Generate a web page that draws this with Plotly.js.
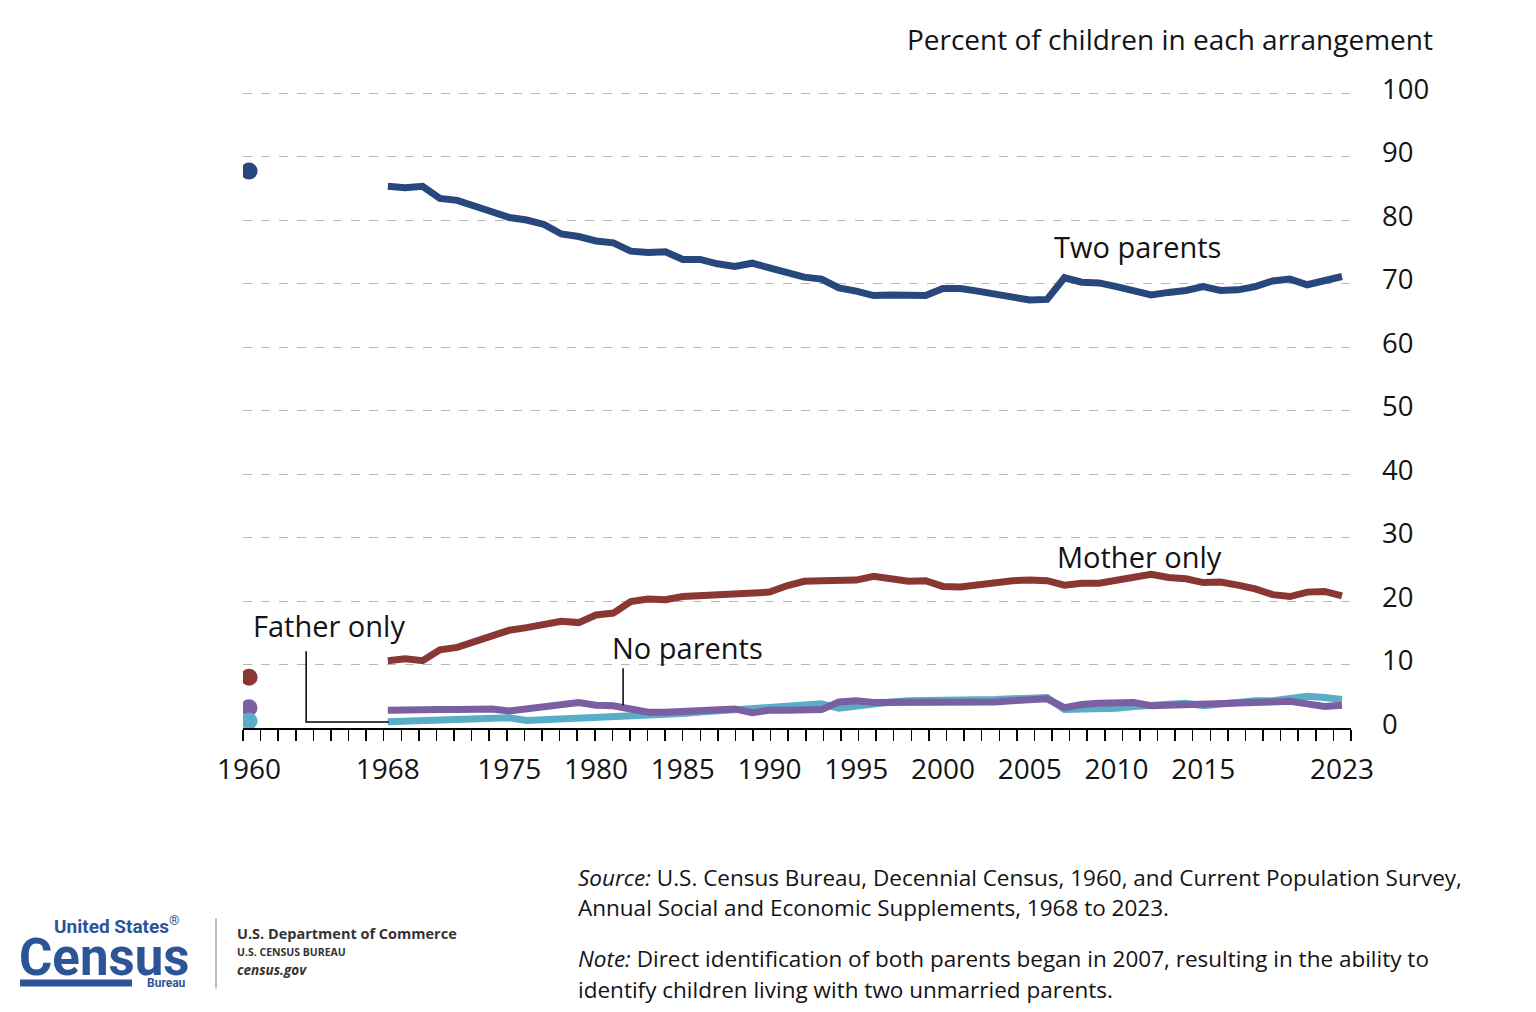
<!DOCTYPE html>
<html><head><meta charset="utf-8">
<script src="https://cdn.plot.ly/plotly-3.0.1.min.js"></script>
<style>html,body{margin:0;padding:0;background:#fff}#chart{width:1536px;height:1012px}</style>
</head><body><div id="chart"></div>
<script>
// ---------- DATA ----------
const years = [1968,1969,1970,1971,1972,1973,1974,1975,1976,1977,1978,1979,1980,1981,1982,1983,1984,1985,1986,1987,1988,1989,1990,1991,1992,1993,1994,1995,1996,1997,1998,1999,2000,2001,2002,2003,2004,2005,2006,2007,2008,2009,2010,2011,2012,2013,2014,2015,2016,2017,2018,2019,2020,2021,2022,2023];
const twoParents = [85.3,85.1,85.3,83.4,83.1,82.1,81.3,80.4,80.0,79.3,77.8,77.4,76.7,76.4,75.1,74.9,75.0,73.8,73.8,73.1,72.7,73.2,72.5,71.6,71.0,70.7,69.3,68.8,68.1,68.2,68.2,68.1,69.2,69.2,68.8,68.4,67.8,67.4,67.5,70.9,70.2,70.1,69.5,68.8,68.2,68.6,68.9,69.5,68.9,69.0,69.5,70.4,70.7,69.8,70.4,71.1];
const motherOnly = [10.6,10.9,10.6,12.3,12.7,13.6,14.4,15.4,15.8,16.2,16.8,16.6,17.8,18.1,19.9,20.3,20.2,20.7,20.8,21.0,21.2,21.3,21.4,22.4,23.1,23.2,23.3,23.3,23.9,23.6,23.1,23.2,22.3,22.2,22.6,22.9,23.2,23.3,23.2,22.5,22.8,22.8,23.2,23.8,24.2,23.7,23.5,22.9,23.0,22.5,21.9,21.0,20.7,21.4,21.5,20.8];
const fatherOnly = [1.0,1.1,1.1,1.2,1.3,1.3,1.4,1.6,1.2,1.3,1.5,1.6,1.7,1.7,1.9,2.0,2.1,2.3,2.5,2.7,2.9,3.0,3.1,3.4,3.6,3.8,3.1,3.5,3.9,4.1,4.3,4.3,4.4,4.4,4.5,4.5,4.6,4.7,4.8,2.9,3.0,2.9,3.1,3.4,3.5,3.8,3.9,3.5,3.8,4.1,4.3,4.3,4.6,5.0,4.8,4.5];
const noParents = [2.8,2.9,3.0,2.9,2.9,3.0,3.0,2.7,3.0,3.3,3.8,4.0,3.6,3.5,3.0,2.5,2.5,2.6,2.7,2.9,3.0,2.4,2.8,2.8,2.9,2.9,4.1,4.3,4.0,4.0,4.1,4.1,4.1,4.0,3.9,4.1,4.3,4.5,4.6,3.2,3.7,3.9,4.0,4.0,3.5,3.6,3.6,3.7,3.8,4.0,4.2,4.1,4.2,3.8,3.4,3.6];
const censusYear = [1960];
const twoParents1960 = [87.7];
const motherOnly1960 = [8.0];
const fatherOnly1960 = [1.1];
const noParents1960 = [3.2];
const xTickVals = [1960,1968,1975,1980,1985,1990,1995,2000,2005,2010,2015,2023];
const xTickText = ['1960','1968','1975','1980','1985','1990','1995','2000','2005','2010','2015','2023'];
const yTickVals = [0,10,20,30,40,50,60,70,80,90,100];
const seriesNames = ['Two parents','Mother only','Father only','No parents'];
const sourceLines = ['<i>Source:</i> U.S. Census Bureau, Decennial Census, 1960, and Current Population Survey,',
                     'Annual Social and Economic Supplements, 1968 to 2023.'];
const noteLines = ['<i>Note:</i> Direct identification of both parents began in 2007, resulting in the ability to',
                   'identify children living with two unmarried parents.'];

// ---------- STYLE ----------
const colTwo = '#27477d', colMother = '#8a3633', colFather = '#5aadc6', colNo = '#7a5fa2';
const FONT = 'Open Sans, Noto Sans, sans-serif';
const TXT = '#141414';
const L = 243, R = 1351, T = 93, B = 728, W = 1536, H = 1012;
const px = p => (p - L) / (R - L);
const py = p => (B - p) / (B - T);
const xRange = [1959.65, 2023.52];

function lineTrace(y, color, name) {
  return {x: years, y: y, type: 'scatter', mode: 'lines', name: name,
    line: {color: color, width: 7}, hoverinfo: 'skip'};
}
function dotTrace(y, color, name) {
  return {x: censusYear, y: y, type: 'scatter', mode: 'markers', name: name, xaxis: 'x2',
    marker: {color: color, size: 17}, hoverinfo: 'skip'};
}
const data = [
  lineTrace(fatherOnly, colFather, seriesNames[2]),
  lineTrace(noParents, colNo, seriesNames[3]),
  lineTrace(motherOnly, colMother, seriesNames[1]),
  lineTrace(twoParents, colTwo, seriesNames[0]),
  dotTrace(twoParents1960, colTwo, seriesNames[0]),
  dotTrace(motherOnly1960, colMother, seriesNames[1]),
  dotTrace(noParents1960, colNo, seriesNames[3]),
  dotTrace(fatherOnly1960, colFather, seriesNames[2])
];

const blue = '#2b5596';
const labFont = {size: 29, color: TXT, family: FONT};
const footFont = {size: 22.5, color: TXT, family: FONT};
function footLine(text, yc) {
  return {text: text, xref: 'paper', yref: 'paper', x: px(576), y: py(yc), xanchor: 'left', yanchor: 'middle',
    align: 'left', showarrow: false, font: footFont};
}
const annotations = [
  {text: seriesNames[0], x: 2011.2, y: 75.8, xref: 'x', yref: 'y', showarrow: false, font: labFont},
  {text: seriesNames[1], x: 2011.35, y: 27.0, xref: 'x', yref: 'y', showarrow: false, font: labFont},
  {text: seriesNames[2], x: 1964.6, y: 16.1, xref: 'x', yref: 'y', showarrow: false, font: labFont},
  {text: seriesNames[3], x: 1985.25, y: 12.6, xref: 'x', yref: 'y', showarrow: false, font: labFont},
  footLine(sourceLines[0], 877),
  footLine(sourceLines[1], 907),
  footLine(noteLines[0], 958),
  footLine(noteLines[1], 989),
  // logo
  {text: '<b>United States</b><sup>®</sup>', xref: 'paper', yref: 'paper', x: px(52), y: py(925), xanchor: 'left', yanchor: 'middle', showarrow: false,
   font: {size: 19, color: blue, family: 'Roboto, sans-serif'}},
  {text: '<b>Census</b>', xref: 'paper', yref: 'paper', x: px(104), y: py(957), xanchor: 'center', yanchor: 'middle', showarrow: false,
   font: {size: 51, color: blue, family: 'Roboto, sans-serif'}},
  {text: '<b>Bureau</b>', xref: 'paper', yref: 'paper', x: px(188), y: py(983), xanchor: 'right', yanchor: 'middle', showarrow: false,
   font: {size: 12, color: blue, family: 'Roboto, sans-serif'}},
  {text: '<b>U.S. Department of Commerce</b>', xref: 'paper', yref: 'paper', x: px(235), y: py(933), xanchor: 'left', yanchor: 'middle', showarrow: false,
   font: {size: 14.5, color: '#333', family: 'Open Sans, sans-serif'}},
  {text: '<b>U.S. CENSUS BUREAU</b>', xref: 'paper', yref: 'paper', x: px(235), y: py(952), xanchor: 'left', yanchor: 'middle', showarrow: false,
   font: {size: 10.5, color: '#333', family: 'Open Sans, sans-serif'}},
  {text: '<b><i>census.gov</i></b>', xref: 'paper', yref: 'paper', x: px(235), y: py(970), xanchor: 'left', yanchor: 'middle', showarrow: false,
   font: {size: 13.5, color: '#333', family: 'Open Sans, sans-serif'}}
];

const shapes = [
  {type: 'path', xref: 'x', yref: 'y', path: 'M 1963.29 12.1 L 1963.29 0.95 L 1968.05 0.95', line: {color: '#000', width: 1.5}},
  {type: 'line', xref: 'x', yref: 'y', x0: 1981.56, x1: 1981.56, y0: 9.4, y1: 3.6, line: {color: '#000', width: 1.5}},
  {type: 'rect', xref: 'paper', yref: 'paper', x0: px(20), x1: px(132), y0: py(986), y1: py(979), fillcolor: blue, line: {width: 0}},
  {type: 'line', xref: 'paper', yref: 'paper', x0: px(216), x1: px(216), y0: py(918), y1: py(988), line: {color: '#a8a8a8', width: 1.5}}
];

const layout = {
  width: W, height: H,
  margin: {l: L, r: W - R, t: T - 1, b: H - B, pad: 0},
  paper_bgcolor: '#fff', plot_bgcolor: '#fff',
  showlegend: false,
  font: {family: FONT, color: TXT},
  title: {text: 'Percent of children in each arrangement', xref: 'container', yref: 'container',
    x: 1433 / W, xanchor: 'right', y: 1 - 40 / H, yanchor: 'middle', font: {size: 28, color: TXT, family: FONT}},
  xaxis: {range: xRange, showline: true, linecolor: '#000', linewidth: 2, ticks: 'outside', ticklen: 11, tickwidth: 1.5,
    tickcolor: '#000', tickmode: 'linear', tick0: xRange[0], dtick: (xRange[1] - xRange[0]) / 63,
    showticklabels: false, showgrid: false, zeroline: false, fixedrange: true},
  xaxis2: {overlaying: 'x', anchor: 'y', side: 'bottom', range: xRange, tickmode: 'array', tickvals: xTickVals, ticktext: xTickText,
    ticks: 'outside', ticklen: 16, tickcolor: 'rgba(0,0,0,0)', showline: false, showgrid: false, zeroline: false,
    tickfont: {size: 28, color: TXT, family: FONT}, fixedrange: true},
  yaxis: {range: [0, 100.16], side: 'right', tickmode: 'array', tickvals: yTickVals, showgrid: true, gridcolor: '#b8b8b8', griddash: 'dash',
    gridwidth: 1, zeroline: false, showline: false, ticks: '', ticklabelstandoff: 30, ticklabelshift: -4,
    tickfont: {size: 27.5, color: TXT, family: FONT}, fixedrange: true},
  annotations: annotations,
  shapes: shapes
};

Plotly.newPlot('chart', data, layout, {staticPlot: true, displayModeBar: false});
</script>
</body></html>
